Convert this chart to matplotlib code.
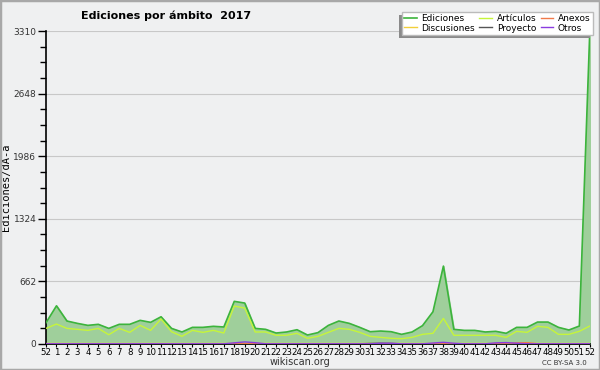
import matplotlib
matplotlib.use("Agg")
import matplotlib.pyplot as plt
from matplotlib.patches import Rectangle
import numpy as np

weeks = ["52"] + [str(i) for i in range(1, 53)]
ediciones = [225, 404, 243, 218, 197, 208, 165, 208, 208, 250, 229, 288, 165, 127, 176, 176,
             187, 180, 451, 433, 165, 155, 116, 127, 151, 95, 120, 197, 243, 218, 176, 130,
             137, 130, 102, 127, 194, 341, 824, 155, 144, 144, 127, 134, 113, 176, 176, 232,
             232, 176, 148, 190, 3310]
articulos = [165, 211, 165, 155, 144, 165, 98, 165, 123, 197, 144, 264, 130, 81, 144, 123,
             144, 116, 401, 380, 127, 127, 92, 92, 113, 60, 81, 123, 165, 155, 123, 81,
             70, 60, 56, 70, 102, 113, 271, 92, 92, 92, 92, 92, 70, 134, 123, 187,
             176, 102, 102, 134, 190]
discusiones = [8] * 53
anexos = [3] * 45 + [12, 14] + [3] * 6
proyecto = [2] * 31 + [6, 8, 6] + [2] * 19
otros = [2] * 18 + [12, 22, 14] + [2] * 11 + [8, 8] + [2] * 3 + [10, 18, 8] + [2] * 3 + [12, 15, 8] + [2] * 7
yticks = [0, 662, 1324, 1986, 2648, 3310]

bg = "#eff0f1"
fig = plt.figure(figsize=(6, 3.7), dpi=100, facecolor=bg)
fig.patches.append(Rectangle((0, 0), 1, 1, transform=fig.transFigure, fill=False,
                             edgecolor="#a8a8a8", linewidth=2.5))
ax = fig.add_axes([0.0767, 0.0703, 0.9063, 0.8457], facecolor=bg)
x = np.arange(len(weeks))

ax.fill_between(x, 0, ediciones, color="#9fcf9b", zorder=1)
ax.plot(x, ediciones, color="#3cb43c", lw=1.2, zorder=3, label="Ediciones")
ax.plot(x, discusiones, color="#f2cf3a", lw=1.0, zorder=3, label="Discusiones")
ax.plot(x, articulos, color="#c6f53a", lw=1.0, zorder=3, label="Artículos")
ax.plot(x, proyecto, color="#555555", lw=1.0, zorder=3, label="Proyecto")
ax.plot(x, anexos, color="#f07a4a", lw=1.0, zorder=3, label="Anexos")
ax.plot(x, otros, color="#8a3ce0", lw=1.0, zorder=3, label="Otros")

ax.set_xlim(0, len(weeks) - 1)
ax.set_ylim(0, 3310)
ax.set_xticks(x)
ax.set_xticklabels(weeks, fontsize=6.2)
ax.set_yticks(yticks)
ax.set_yticklabels([str(v) for v in yticks], fontsize=6.5, color="#333333")
ax.set_yticks(np.arange(0, 3310, 662 / 4), minor=True)
ax.tick_params(axis="y", which="major", length=6, width=1, pad=1)
ax.tick_params(axis="y", which="minor", length=4, width=1)
ax.tick_params(axis="x", length=2, pad=1)
ax.grid(axis="y", color="#c8c8c8", lw=0.8, zorder=0)
ax.set_axisbelow(True)
for s in ["top", "right"]:
    ax.spines[s].set_visible(False)
ax.spines["left"].set_linewidth(1.2)
ax.spines["bottom"].set_linewidth(1.2)

ax.set_ylabel("Ediciones/dÃ-a", fontsize=7.5, family="DejaVu Sans Mono", labelpad=2)

fig.text(0.277, 0.957, "Ediciones por ámbito  2017", fontsize=8, fontweight="bold",
         ha="center", va="center")
fig.text(0.5, 0.022, "wikiscan.org", fontsize=7, ha="center", va="center", color="#333333")
fig.text(0.94, 0.02, "CC BY-SA 3.0", fontsize=5, ha="center", va="center", color="#333333")

leg = fig.legend(loc="upper right", bbox_to_anchor=(0.988, 0.968), ncol=3, fontsize=6.5,
                 frameon=True, fancybox=False, shadow=False, handlelength=1.4,
                 handletextpad=0.5, columnspacing=0.5, labelspacing=0.05,
                 borderpad=0.25, borderaxespad=0)
leg.get_frame().set_edgecolor("#bbbbbb")
leg.get_frame().set_facecolor("white")
leg.get_frame().set_alpha(1)

fig.canvas.draw()
bb = leg.get_window_extent().transformed(fig.transFigure.inverted())
dx, dy = 3 / 600, 3 / 370
fig.patches.append(Rectangle((bb.x0 - dx, bb.y0 - dy), bb.width, bb.height,
                             transform=fig.transFigure, facecolor="#8a8a8a",
                             edgecolor="none", zorder=4))

fig.savefig("out.png", dpi=100, facecolor=bg)
